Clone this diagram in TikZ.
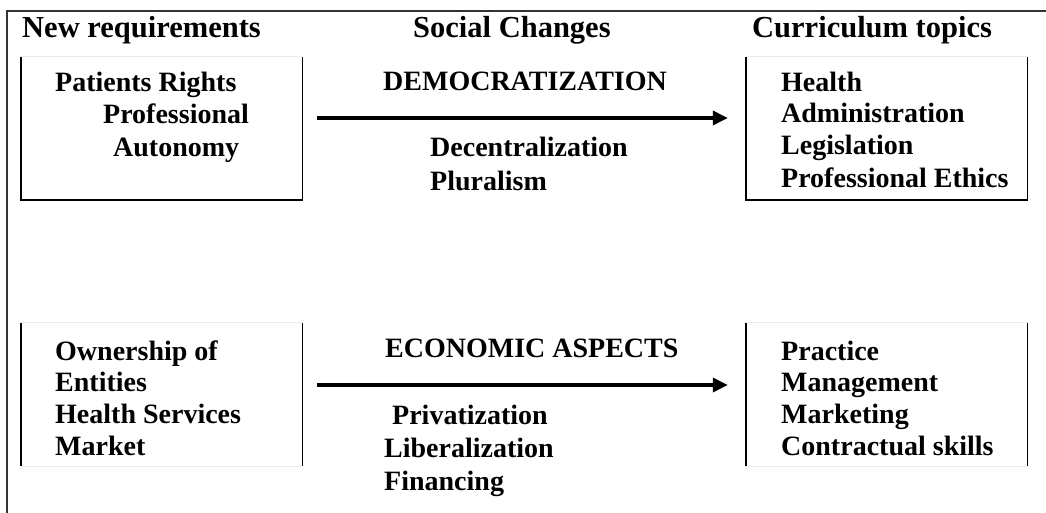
\documentclass[tikz,border=0pt]{standalone}
\usepackage{fontspec}
\setmainfont{Liberation Serif}
\usetikzlibrary{arrows.meta}
\begin{document}
\begin{tikzpicture}[x=1pt,y=-1pt,
  txt/.style={inner sep=0pt,anchor=base west,font=\bfseries\fontsize{28}{32}\selectfont},
  head/.style={txt,font=\bfseries\fontsize{30.5}{34}\selectfont},
  boxarea/.style={draw=none,inner sep=0pt,minimum width=281pt,minimum height=143pt},
  side/.style={line width=1.4pt,black},
  faint/.style={line width=0.8pt,black!8},
  frame/.style={line width=1.1pt,black!80},
  flow/.style={line width=3.5pt,-{Triangle[length=15pt,width=14pt]}}]
\useasboundingbox (0,0) rectangle (1046,513);
% outer frame (top and left only)
\coordinate (ftl) at (7,11);
\coordinate (ftr) at (1046,11);
\coordinate (fbl) at (7,513);
\draw[frame] (ftr) -- (ftl) -- (fbl);
% boxes
\node[boxarea] (b1) at (161.5,128.5) {};
\node[boxarea] (b3) at (886.5,128.5) {};
\node[boxarea] (b4) at (161.5,394.5) {};
\node[boxarea] (b6) at (886.5,394.5) {};
\foreach \b in {b1,b3}{
  \draw[faint] (\b.north west) -- (\b.north east);
  \draw[side] (\b.north west) -- (\b.south west) -- (\b.south east) -- (\b.north east);
}
\foreach \b in {b4,b6}{
  \draw[faint] (\b.north west) -- (\b.north east);
  \draw[faint] (\b.south west) -- (\b.south east);
  \draw[side] (\b.north west) -- (\b.south west);
  \draw[side] (\b.north east) -- (\b.south east);
}
% headings
\node[head] (h1) at (22,38) {New requirements};
\node[head] (h2) at (413,38) {Social Changes};
\node[head] (h3) at (752,38) {Curriculum topics};
% top row
\node[txt] (t1) at (55,92) {Patients Rights};
\node[txt] (t2) at (103,124) {Professional};
\node[txt] (t3) at (113,157) {Autonomy};
\node[txt] (d0) at (383,91) {DEMOCRATIZATION};
\node[txt] (d1) at (430,157) {Decentralization};
\node[txt] (d2) at (430,190) {Pluralism};
\node[txt] (c1) at (781,92) {Health};
\node[txt] (c2) at (781,123) {Administration};
\node[txt] (c3) at (781,155) {Legislation};
\node[txt] (c4) at (781,187) {Professional Ethics};
% bottom row
\node[txt] (o1) at (55,360) {Ownership of};
\node[txt] (o2) at (55,391) {Entities};
\node[txt] (o3) at (55,423) {Health Services};
\node[txt] (o4) at (55,455) {Market};
\node[txt] (e0) at (385,357) {ECONOMIC ASPECTS};
\node[txt] (e1) at (392,424) {Privatization};
\node[txt] (e2) at (384,457) {Liberalization};
\node[txt] (e3) at (384,490) {Financing};
\node[txt] (p1) at (781,360) {Practice};
\node[txt] (p2) at (781,391) {Management};
\node[txt] (p3) at (781,423) {Marketing};
\node[txt] (p4) at (781,455) {Contractual skills};
% arrows
\draw[flow] ([shift={(15,-10.5)}]b1.east) -- ([shift={(-18,-10.5)}]b3.west);
\draw[flow] ([shift={(15,-9.5)}]b4.east) -- ([shift={(-18,-9.5)}]b6.west);
\end{tikzpicture}
\end{document}
